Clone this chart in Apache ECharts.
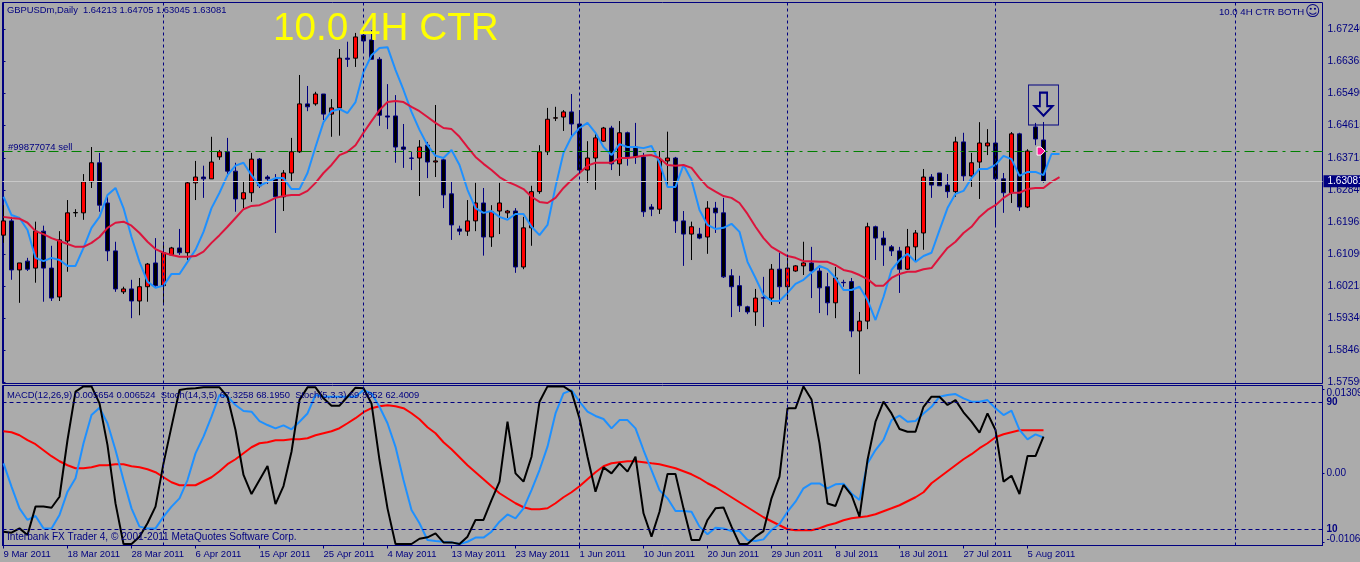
<!DOCTYPE html>
<html lang="en">
<head>
    <meta charset="UTF-8">
    <title>GBPUSDm,Daily</title>
    <style>
        html, body { margin: 0; padding: 0; background: #ababab; }
        #main { width: 1360px; height: 562px; }
    </style>
</head>
<body>
<div id="main"></div>
<script src="https://cdn.jsdelivr.net/npm/echarts@6/dist/echarts.min.js"></script>
<script>
    var opens = [1.6161,1.6200,1.6066,1.6090,1.6071,1.6172,1.6071,1.5992,1.6145,1.6222,
        1.6222,1.6307,1.6359,1.6249,1.6118,1.6006,1.6014,1.5981,1.6020,1.6085,
        1.6023,1.6107,1.6126,1.6113,1.6304,1.6320,1.6315,1.6375,1.6389,1.6336,
        1.6260,1.6277,1.6369,1.6320,1.6315,1.6266,1.6331,1.6389,1.6520,1.6520,
        1.6547,1.6492,1.6509,1.6645,1.6645,1.6708,1.6695,1.6642,1.6487,1.6487,
        1.6402,1.6372,1.6372,1.6407,1.6361,1.6367,1.6274,1.6178,1.6172,1.6200,
        1.6249,1.6156,1.6227,1.6222,1.6227,1.6074,1.6181,1.6280,1.6389,1.6481,
        1.6484,1.6498,1.6465,1.6339,1.6372,1.6418,1.6454,1.6356,1.6441,1.6402,
        1.6375,1.6238,1.6232,1.6364,1.6372,1.6200,1.6164,1.6164,1.6156,1.6235,
        1.6222,1.6050,1.6023,1.5965,1.5951,1.5990,1.5989,1.6068,1.6020,1.6063,
        1.6077,1.6085,1.6063,1.6020,1.5976,1.6032,1.6034,1.5899,1.5926,1.6184,
        1.6153,1.6129,1.6118,1.6068,1.6129,1.6167,1.6320,1.6331,1.6298,1.6280,
        1.6416,1.6323,1.6361,1.6405,1.6413,1.6315,1.6277,1.6438,1.6238,1.6457,
        1.64213];
    var closes = [1.6200,1.6066,1.6085,1.6068,1.6172,1.6071,1.5989,1.6148,1.6222,1.6223,
        1.6307,1.6359,1.6243,1.6118,1.6014,1.6014,1.5981,1.6020,1.6082,1.6023,
        1.6113,1.6126,1.6113,1.6304,1.6320,1.6315,1.6361,1.6389,1.6336,1.6260,
        1.6277,1.6369,1.6296,1.6315,1.6266,1.6331,1.6389,1.6520,1.6512,1.6547,
        1.6492,1.6509,1.6645,1.6642,1.6703,1.6692,1.6642,1.6489,1.6484,1.6402,
        1.6396,1.6371,1.6402,1.6361,1.6364,1.6271,1.6189,1.6172,1.6200,1.6249,
        1.6156,1.6225,1.6249,1.6227,1.6074,1.6181,1.6280,1.6389,1.6478,1.6482,
        1.6498,1.6465,1.6339,1.6372,1.6427,1.6454,1.6356,1.6441,1.6375,1.6375,
        1.6225,1.6232,1.6367,1.6372,1.6200,1.6164,1.6184,1.6153,1.6235,1.6222,
        1.6047,1.6020,1.5968,1.5951,1.5989,1.5989,1.6068,1.6020,1.6071,1.6077,
        1.6085,1.6063,1.6017,1.5976,1.6044,1.6031,1.5899,1.5926,1.6184,1.6153,
        1.6134,1.6118,1.6068,1.6129,1.6167,1.6320,1.6298,1.6296,1.6280,1.6416,
        1.6323,1.6359,1.6413,1.6413,1.6315,1.6277,1.6438,1.6238,1.6391,1.6424,
        1.63081];
    var lows = [1.6140,1.6039,1.5976,1.6063,1.6031,1.5979,1.5981,1.5981,1.6061,1.6211,
        1.6203,1.6290,1.6225,1.6090,1.6006,1.6000,1.5934,1.5942,1.5979,1.6020,
        1.5970,1.6107,1.6107,1.6093,1.6257,1.6263,1.6315,1.6367,1.6320,1.6225,
        1.6235,1.6252,1.6290,1.6301,1.6167,1.6227,1.6307,1.6386,1.6500,1.6515,
        1.6476,1.6430,1.6433,1.6621,1.6621,1.6662,1.6642,1.6460,1.6451,1.6359,
        1.6345,1.6339,1.6268,1.6317,1.6320,1.6235,1.6148,1.6161,1.6159,1.6172,
        1.6105,1.6129,1.6164,1.6208,1.6058,1.6068,1.6132,1.6274,1.6380,1.6473,
        1.6446,1.6427,1.6334,1.6304,1.6285,1.6416,1.6339,1.6323,1.6351,1.6356,
        1.6211,1.6213,1.6219,1.6293,1.6167,1.6077,1.6093,1.6150,1.6110,1.6167,
        1.6044,1.5937,1.5951,1.5945,1.5913,1.5910,1.5970,1.5973,1.5984,1.6061,
        1.6052,1.5989,1.5948,1.5942,1.5934,1.6020,1.5882,1.5781,1.5904,1.6093,
        1.6077,1.6104,1.6003,1.6066,1.6090,1.6121,1.6263,1.6296,1.6263,1.6266,
        1.6307,1.6293,1.6260,1.6380,1.6184,1.6222,1.6249,1.6227,1.6235,1.6407,
        1.63045];
    var highs = [1.6243,1.6211,1.6085,1.6099,1.6198,1.6187,1.6132,1.6172,1.6257,1.6232,
        1.6328,1.6402,1.6386,1.6266,1.6143,1.6020,1.6039,1.6044,1.6085,1.6153,
        1.6143,1.6129,1.6178,1.6307,1.6364,1.6351,1.6430,1.6394,1.6427,1.6359,
        1.6307,1.6386,1.6372,1.6325,1.6328,1.6339,1.6427,1.6599,1.6569,1.6553,
        1.6547,1.6533,1.6670,1.6690,1.6714,1.6722,1.6722,1.6648,1.6574,1.6544,
        1.6465,1.6389,1.6421,1.6416,1.6517,1.6372,1.6307,1.6187,1.6257,1.6304,
        1.6290,1.6243,1.6304,1.6230,1.6235,1.6211,1.6296,1.6407,1.6509,1.6512,
        1.6503,1.6547,1.6503,1.6418,1.6441,1.6457,1.6460,1.6473,1.6444,1.6468,
        1.6386,1.6246,1.6391,1.6444,1.6375,1.6227,1.6198,1.6181,1.6254,1.6252,
        1.6263,1.6068,1.6050,1.5968,1.6014,1.6047,1.6082,1.6113,1.6099,1.6079,
        1.6143,1.6129,1.6079,1.6058,1.6074,1.6039,1.6044,1.5951,1.6195,1.6187,
        1.6172,1.6134,1.6129,1.6178,1.6175,1.6342,1.6328,1.6331,1.6328,1.6430,
        1.6441,1.6386,1.6470,1.6451,1.6476,1.6331,1.6443,1.6441,1.6396,1.6468,
        1.64705];

    // moving averages, both shifted two bars past the last candle
    var fastMa = [1.6266,1.6216,1.6208,1.6175,1.6099,1.6090,1.6099,1.6093,1.6077,1.6077,
        1.6126,1.6181,1.6211,1.6271,1.6290,1.6235,1.6156,1.6088,1.6034,1.6017,
        1.6023,1.6055,1.6055,1.6088,1.6121,1.6170,1.6235,1.6277,1.6325,1.6351,
        1.6359,1.6325,1.6296,1.6307,1.6317,1.6317,1.6287,1.6287,1.6331,1.6402,
        1.6470,1.6500,1.6506,1.6495,1.6525,1.6607,1.6653,1.6673,1.6675,1.6613,
        1.6558,1.6498,1.6449,1.6407,1.6378,1.6372,1.6394,1.6353,1.6285,1.6235,
        1.6222,1.6227,1.6211,1.6203,1.6219,1.6219,1.6184,1.6161,1.6189,1.6293,
        1.6386,1.6430,1.6454,1.6468,1.6441,1.6402,1.6380,1.6410,1.6402,1.6402,
        1.6399,1.6405,1.6359,1.6293,1.6293,1.6353,1.6312,1.6230,1.6189,1.6178,
        1.6181,1.6192,1.6170,1.6088,1.6044,1.5997,1.5981,1.5981,1.6003,1.6028,
        1.6039,1.6058,1.6077,1.6068,1.6044,1.6011,1.6011,1.6020,1.5984,1.5929,
        1.5992,1.6066,1.6093,1.6110,1.6088,1.6104,1.6113,1.6175,1.6235,1.6274,
        1.6282,1.6317,1.6342,1.6342,1.6353,1.6378,1.6369,1.6323,1.6334,1.6334,
        1.6325,1.6383,1.6383];
    var slowMa = [1.6211,1.6208,1.6206,1.6195,1.6172,1.6164,1.6153,1.6145,1.6137,1.6129,
        1.6129,1.6140,1.6156,1.6181,1.6195,1.6198,1.6187,1.6167,1.6143,1.6123,
        1.6113,1.6107,1.6102,1.6102,1.6104,1.6116,1.6140,1.6161,1.6184,1.6208,
        1.6232,1.6241,1.6243,1.6252,1.6263,1.6268,1.6271,1.6271,1.6282,1.6304,
        1.6331,1.6353,1.6380,1.6389,1.6407,1.6441,1.6473,1.6503,1.6525,1.6528,
        1.6525,1.6512,1.6500,1.6484,1.6468,1.6454,1.6451,1.6430,1.6402,1.6375,
        1.6356,1.6339,1.6320,1.6307,1.6298,1.6287,1.6266,1.6252,1.6249,1.6263,
        1.6290,1.6312,1.6331,1.6351,1.6359,1.6359,1.6359,1.6372,1.6372,1.6375,
        1.6378,1.6380,1.6372,1.6353,1.6351,1.6353,1.6345,1.6317,1.6293,1.6280,
        1.6268,1.6263,1.6249,1.6219,1.6184,1.6153,1.6129,1.6116,1.6104,1.6099,
        1.6090,1.6090,1.6088,1.6088,1.6079,1.6066,1.6061,1.6052,1.6041,1.6023,
        1.6023,1.6044,1.6055,1.6061,1.6061,1.6068,1.6071,1.6099,1.6126,1.6143,
        1.6167,1.6184,1.6211,1.6230,1.6243,1.6263,1.6277,1.6277,1.6287,1.6290,
        1.6290,1.6307,1.6320];

    var macdSignal = [0.00651,0.00636,0.00589,0.00512,0.00450,0.00357,0.00264,0.00186,0.00124,0.00078,
        0.00078,0.00093,0.00124,0.00124,0.00140,0.00140,0.00109,0.00093,0.00062,0.00016,
        -0.00062,-0.00140,-0.00186,-0.00186,-0.00186,-0.00124,-0.00062,0.00031,0.00140,0.00217,
        0.00310,0.00403,0.00465,0.00481,0.00512,0.00512,0.00527,0.00527,0.00543,0.00589,
        0.00620,0.00651,0.00698,0.00775,0.00853,0.00946,0.01008,0.01039,0.01054,0.01039,
        0.01008,0.00930,0.00837,0.00713,0.00620,0.00481,0.00372,0.00248,0.00124,0.00016,
        -0.00093,-0.00202,-0.00310,-0.00388,-0.00465,-0.00527,-0.00558,-0.00558,-0.00543,-0.00465,
        -0.00372,-0.00295,-0.00202,-0.00093,0.00016,0.00109,0.00155,0.00171,0.00186,0.00186,
        0.00171,0.00155,0.00140,0.00109,0.00078,0.00031,-0.00016,-0.00078,-0.00155,-0.00217,
        -0.00295,-0.00372,-0.00450,-0.00527,-0.00605,-0.00682,-0.00744,-0.00806,-0.00868,-0.00884,
        -0.00884,-0.00884,-0.00853,-0.00806,-0.00775,-0.00729,-0.00698,-0.00682,-0.00667,-0.00636,
        -0.00589,-0.00543,-0.00496,-0.00434,-0.00372,-0.00295,-0.00155,-0.00062,0.00031,0.00124,
        0.00217,0.00295,0.00388,0.00465,0.00558,0.00605,0.00636,0.00667,0.00667,0.00667,
        0.00667];
    var stochSlow = [51.6,37,23.3,16,18.5,10.7,10.7,19.1,33.8,42.2,
        64.2,82,86.6,76.8,60,41.1,23.3,11.8,10.7,10.7,
        18.1,24.4,29.6,41.1,57.9,68.4,81,94.6,93.5,88.3,
        84.5,84.1,78.2,75.7,73.6,75.5,73,77.8,83,94.6,
        93.5,93.5,93.5,93.5,93.5,97.7,95.6,87.2,76.8,62,
        41.1,22.3,13.9,3.4,2.8,2.3,1.9,0.9,2.3,4.9,
        4.9,8.6,14.9,19.5,17,23.3,34.8,47.4,62.1,83,
        95.6,97.7,90.4,84.1,81.4,79.5,73.6,78.8,78.8,73.6,
        60,47.4,34.8,29.6,21.6,21.6,21.2,11.8,7,11.1,
        10.7,9,9,3.4,2.8,3.8,9.7,13.5,21.2,27.5,
        35.9,39,39,35.9,38.4,38.8,32.7,28.5,51.6,60,
        66.3,78.8,81.6,77.8,78.2,83,87.2,93.5,94.6,95.2,
        92.5,90.4,90.4,91.4,86.2,82,84.7,72.6,66.7,69.8,
        67.9];
    var stochFast = [8.6,8,10.7,6.5,24.4,24.4,23.7,30.6,66.3,96.7,
        100,100,89.3,63.1,26.4,0.9,0.9,5.5,13.9,24.4,
        51.6,74.7,97.7,98.6,98.8,99.4,99.4,99.4,93.5,72.6,
        44.3,32.3,41.1,49.9,26,37.3,58.9,91.4,99.4,99.4,
        92.5,87.9,87.9,93.5,99.2,98.8,89.3,53.7,23.3,0.9,
        0.9,0.9,4.2,5.1,7.6,1.9,1.9,0.9,5.5,16,
        16,28.5,40.1,77.8,45.3,40.1,55.8,90.4,100,100,
        100,96.7,79.9,55.8,33.8,49.1,45.3,51.6,46.4,55.8,
        20.2,5.5,21.2,44.9,44.9,23.3,3.4,3.4,16,23.3,
        23.9,11.8,0.9,0.9,5.5,9,29.6,43.2,86.2,86.2,
        100,91.8,64.2,26.4,24.8,38,31.7,18.1,53.7,77.8,
        90.4,83,73.2,71.5,71.5,87.2,93.5,93.5,88.3,91.4,
        83.7,77.8,70.9,83,72.6,40.1,43.8,32.3,56.2,56.2,
        68.4];

    // one date label every 8 bars
    var dateLabels = ['9 Mar 2011','18 Mar 2011','28 Mar 2011','6 Apr 2011','15 Apr 2011','25 Apr 2011','4 May 2011',
        '13 May 2011','23 May 2011','1 Jun 2011','10 Jun 2011','20 Jun 2011','29 Jun 2011','8 Jul 2011',
        '18 Jul 2011','27 Jul 2011','5 Aug 2011'];
    var priceTicks = [1.6724,1.66365,1.6549,1.64615,1.63715,1.6284,1.61965,1.6109,1.60215,1.5934,1.58465,1.5759];
    var macdTicks = [-0.01069,0,0.01309];
    var stochLevels = [10,90];
    var separators = [20,45,72,98,124,154];
    var lastPrice = 1.63081;
    var orderPrice = 1.6391;

    var navy = '#000080';
    var fontName = '"Liberation Sans", Arial, sans-serif';

    function pairs(values) {
        return values.map(function (v, i) { return [i, v]; });
    }

    function lineSeries(name, values, color, xi, yi) {
        return {
            name: name, type: 'line', xAxisIndex: xi, yAxisIndex: yi, data: pairs(values),
            symbol: 'none', z: 3, silent: true,
            lineStyle: {color: color, width: 2}
        };
    }

    function separatorLines(xi, yi) {
        return {
            type: 'line', xAxisIndex: xi, yAxisIndex: yi, data: [], z: 1, silent: true,
            markLine: {
                silent: true, symbol: 'none', label: {show: false}, animation: false,
                lineStyle: {color: navy, type: [3, 3], width: 1},
                data: separators.map(function (s) { return {xAxis: s}; })
            }
        };
    }

    var candleData = opens.map(function (o, i) {
        return [i, o, closes[i], lows[i], highs[i]];
    });
    var dateTicks = dateLabels.map(function (d, k) { return k * 8; });

    var mainMin = 1.57554, mainMax = 1.67972;

    var option = {
        animation: false,
        backgroundColor: '#ababab',
        textStyle: {fontFamily: fontName},
        grid: [
            {left: 2.5, width: 1320, top: 2.5, height: 381, show: true, borderColor: navy, borderWidth: 1, outerBoundsMode: 'none'},
            {left: 2.5, width: 1320, top: 385.5, height: 160, show: true, borderColor: navy, borderWidth: 1, outerBoundsMode: 'none'}
        ],
        xAxis: [
            {type: 'value', gridIndex: 0, min: -0.125, max: 164.875, axisLine: {show: false},
                axisTick: {show: false}, axisLabel: {show: false}, splitLine: {show: false}},
            {type: 'value', gridIndex: 1, min: -0.125, max: 164.875, splitLine: {show: false},
                axisLine: {show: true, onZero: false, lineStyle: {color: navy}},
                axisTick: {show: true, length: 3, customValues: dateTicks, lineStyle: {color: navy}},
                axisLabel: {show: true, customValues: dateTicks, color: navy, fontSize: 9.5, margin: 4,
                    align: 'left', fontFamily: fontName,
                    formatter: function (v) { return dateLabels[Math.round(v / 8)] || ''; }}}
        ],
        yAxis: [
            {type: 'value', gridIndex: 0, position: 'right', min: mainMin, max: mainMax, scale: true,
                splitLine: {show: false}, axisLine: {show: true, lineStyle: {color: navy}},
                axisTick: {show: true, length: 2, customValues: priceTicks, lineStyle: {color: navy}},
                axisLabel: {color: navy, fontSize: 10.4, margin: 5, fontFamily: fontName, customValues: priceTicks,
                    formatter: function (v) { return v.toFixed(5); }}},
            {type: 'value', gridIndex: 1, position: 'right', min: -0.06, max: 100.57,
                splitLine: {show: false}, axisLine: {show: true, lineStyle: {color: navy}},
                axisTick: {show: false},
                axisLabel: {color: navy, fontSize: 10, margin: 4, fontFamily: fontName, customValues: stochLevels,
                    fontWeight: 'bold', formatter: function (v) { return String(Math.round(v)); }}},
            {type: 'value', gridIndex: 1, position: 'right', min: -0.0112, max: 0.0136,
                splitLine: {show: false}, axisLine: {show: false},
                axisTick: {show: true, length: 2, customValues: macdTicks, lineStyle: {color: navy}},
                axisLabel: {color: navy, fontSize: 10, margin: 4, fontFamily: fontName, customValues: macdTicks,
                    formatter: function (v) {
                        if (v > 0) return '{up|' + v.toFixed(5) + '}';
                        if (v < 0) return '{down|' + v.toFixed(5) + '}';
                        return '0.00';
                    },
                    rich: {
                        up: {padding: [8, 0, 0, 0], color: navy, fontSize: 10, fontFamily: fontName},
                        down: {padding: [0, 0, 6, 0], color: navy, fontSize: 10, fontFamily: fontName}
                    }}}
        ],
        series: [
            separatorLines(0, 0),
            separatorLines(1, 1),
            {
                type: 'line', xAxisIndex: 1, yAxisIndex: 1, data: [], z: 1, silent: true,
                markLine: {silent: true, symbol: 'none', label: {show: false}, animation: false,
                    lineStyle: {color: navy, type: [4, 3], width: 1},
                    data: stochLevels.map(function (l) { return {yAxis: l}; })}
            },
            {
                type: 'line', xAxisIndex: 0, yAxisIndex: 0, data: [], z: 1, silent: true,
                markLine: {silent: true, symbol: 'none', animation: false, precision: 5,
                    data: [
                        {yAxis: orderPrice, label: {show: false},
                            lineStyle: {color: '#008000', type: [10, 5, 3, 5], width: 1}},
                        {yAxis: lastPrice,
                            lineStyle: {color: '#c8c8c8', type: 'solid', width: 1},
                            label: {show: true, position: 'end', distance: 1, color: '#fff', fontSize: 10,
                                fontFamily: fontName, backgroundColor: navy, padding: [1, 6, 1, 4],
                                formatter: lastPrice.toFixed(5)}}
                    ]}
            },
            {
                name: 'GBPUSDm', type: 'candlestick', xAxisIndex: 0, yAxisIndex: 0, data: candleData,
                encode: {x: 0, y: [1, 2, 3, 4]}, barWidth: 5, z: 2, silent: true,
                itemStyle: {color: '#ff0000', color0: '#000000', borderColor: '#000000', borderColor0: navy, borderWidth: 1},
                markPoint: {
                    silent: true, animation: false, label: {show: false},
                    data: [
                        {coord: [130, 1.6517], symbol: 'rect', symbolSize: [30, 40],
                            itemStyle: {color: 'rgba(0,0,0,0)', borderColor: navy, borderWidth: 1}},
                        {coord: [130, 1.6519], symbol: 'path://M6 0 H14 V14 H20 L10 24 L0 14 H6 Z', symbolSize: [18, 23],
                            itemStyle: {color: 'rgba(0,0,0,0)', borderColor: navy, borderWidth: 2}},
                        {coord: [129.7, orderPrice], symbol: 'path://M0 0 H4 L8 4 L4 8 H0 Z', symbolSize: 8,
                            itemStyle: {color: '#ff1493', borderColor: '#fff', borderWidth: 1}}
                    ]
                }
            },
            lineSeries('fast MA', fastMa, '#1e90ff', 0, 0),
            lineSeries('slow MA', slowMa, '#dc143c', 0, 0),
            lineSeries('MACD signal', macdSignal, '#ff0000', 1, 2),
            lineSeries('Stoch signal', stochSlow, '#1e90ff', 1, 1),
            lineSeries('Stoch main', stochFast, '#000000', 1, 1)
        ],
        graphic: [
            {type: 'text', left: 273, top: 10, z: 50, style: {text: '10.0 4H CTR', fill: '#ffff00', font: '38.7px ' + fontName}},
            {type: 'text', left: 7, top: 6, z: 50, style: {text: 'GBPUSDm,Daily  1.64213 1.64705 1.63045 1.63081', fill: navy, font: '9.4px ' + fontName}},
            {type: 'text', left: 1219, top: 7, z: 50, style: {text: '10.0 4H CTR BOTH', fill: navy, font: '9.6px ' + fontName}},
            {type: 'text', left: 1305, top: 5, z: 50, style: {text: '\u263A', fill: navy, font: '15px "DejaVu Sans"'}},
            {type: 'text', left: 8, top: 142, z: 50, style: {text: '#99877074 sell', fill: navy, font: '9.5px ' + fontName}},
            {type: 'text', left: 7, top: 391, z: 50, style: {text: 'MACD(12,26,9) 0.005654 0.006524  Stoch(14,3,5) 67.3258 68.1950  Stoch(5,3,3) 69.3852 62.4009', fill: navy, font: '9.4px ' + fontName}},
            {type: 'text', left: 7, top: 532, z: 50, style: {text: 'Interbank FX Trader 4, \u00A9 2001-2011 MetaQuotes Software Corp.', fill: navy, font: '10.1px ' + fontName}}
        ]
    };

    var chart = echarts.init(document.getElementById('main'), null, {renderer: 'canvas'});
    chart.setOption(option);
</script>
</body>
</html>
